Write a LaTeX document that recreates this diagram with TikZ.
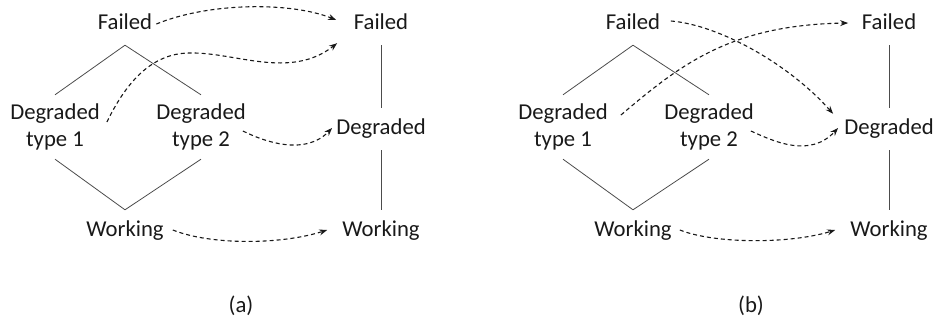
\documentclass[tikz,border=0pt]{standalone}
\usepackage{fontspec}
\setmainfont{Carlito}
\usetikzlibrary{arrows.meta}
\newcommand{\lblfont}{\fontsize{22.7}{27.5}\selectfont}
\begin{document}
\begin{tikzpicture}[x=1pt,y=-1pt,
  state/.style={font=\lblfont, text=black!90, inner xsep=4pt, inner ysep=0pt,
    minimum height=42pt, text height=16pt, text depth=5pt},
  twoline/.style={font=\lblfont, text=black!90, align=center, inner xsep=4pt,
    inner ysep=0pt, minimum height=64pt},
  caption/.style={font=\lblfont, text=black!90},
  link/.style={draw=black!70, line width=0.8pt},
  mapto/.style={draw=black!90, line width=1.1pt, dash pattern=on 4pt off 3pt,
    -{Stealth[length=8pt,width=6pt]}}]
\useasboundingbox (0,0) rectangle (936,324);

% ---------- panel (a) ----------
\node[state]   (Fa)  at (125,24)  {Failed};
\node[twoline] (Da1) at (55,127)  {Degraded\\type 1};
\node[twoline] (Da2) at (201,127) {Degraded\\type 2};
\node[state]   (Wa)  at (125,231) {Working};
\node[state]   (Fb)  at (381,24)  {Failed};
\node[state]   (Db)  at (381,129) {Degraded};
\node[state]   (Wb)  at (381,231) {Working};
\node[caption] (capa) at (241,306) {(a)};

\draw[link] (Fa.south) -- (Da1.north);
\draw[link] (Fa.south) -- (Da2.north);
\draw[link] (Da1.south) -- (Wa.north);
\draw[link] (Da2.south) -- (Wa.north);
\draw[link] (Fb.south) -- (Db.north);
\draw[link] (Db.south) -- (Wb.north);

\draw[mapto] (Fa.east) .. controls (210,2) and (292,2) .. ([xshift=-13.5pt,yshift=4pt]Fb.west);
\draw[mapto] ([xshift=3pt,yshift=5pt]Da1.east) .. controls (125,85) and (150,53) .. (190,53)
  .. controls (235,52) and (290,80) .. ([xshift=-12.5pt,yshift=2pt]Fb.south west);
\draw[mapto] ([xshift=-7pt,yshift=-4pt]Da2.east) .. controls (265,142) and (305,156) .. ([yshift=1pt]Db.west);
\draw[mapto] ([xshift=5pt,yshift=1pt]Wa.east) .. controls (210,245) and (280,245) .. ([xshift=-11pt,yshift=1pt]Wb.west);

% ---------- panel (b) ----------
\node[state]   (Fc)  at (633,24)  {Failed};
\node[twoline] (Dc1) at (563,127) {Degraded\\type 1};
\node[twoline] (Dc2) at (709,127) {Degraded\\type 2};
\node[state]   (Wc)  at (633,231) {Working};
\node[state]   (Fd)  at (889,24)  {Failed};
\node[state]   (Dd)  at (889,129) {Degraded};
\node[state]   (Wd)  at (889,231) {Working};
\node[caption] (capb) at (751,306) {(b)};

\draw[link] (Fc.south) -- (Dc1.north);
\draw[link] (Fc.south) -- (Dc2.north);
\draw[link] (Dc1.south) -- (Wc.north);
\draw[link] (Dc2.south) -- (Wc.north);
\draw[link] (Fd.south) -- (Dd.north);
\draw[link] (Dd.south) -- (Wd.north);

\draw[mapto] ([xshift=6.5pt,yshift=3pt]Fc.east) .. controls (720,25) and (790,65) .. ([xshift=-7pt,yshift=-6pt]Dd.north west);
\draw[mapto] ([xshift=9pt,yshift=12pt]Dc1.east) .. controls (680,65) and (730,25) .. ([xshift=-9.5pt,yshift=1pt]Fd.west);
\draw[mapto] ([xshift=-7pt,yshift=-4pt]Dc2.east) .. controls (775,142) and (810,158) .. ([xshift=-2pt,yshift=1pt]Dd.west);
\draw[mapto] ([xshift=4pt,yshift=1pt]Wc.east) .. controls (715,244) and (790,244) .. ([xshift=-11pt,yshift=1pt]Wd.west);
\end{tikzpicture}
\end{document}
